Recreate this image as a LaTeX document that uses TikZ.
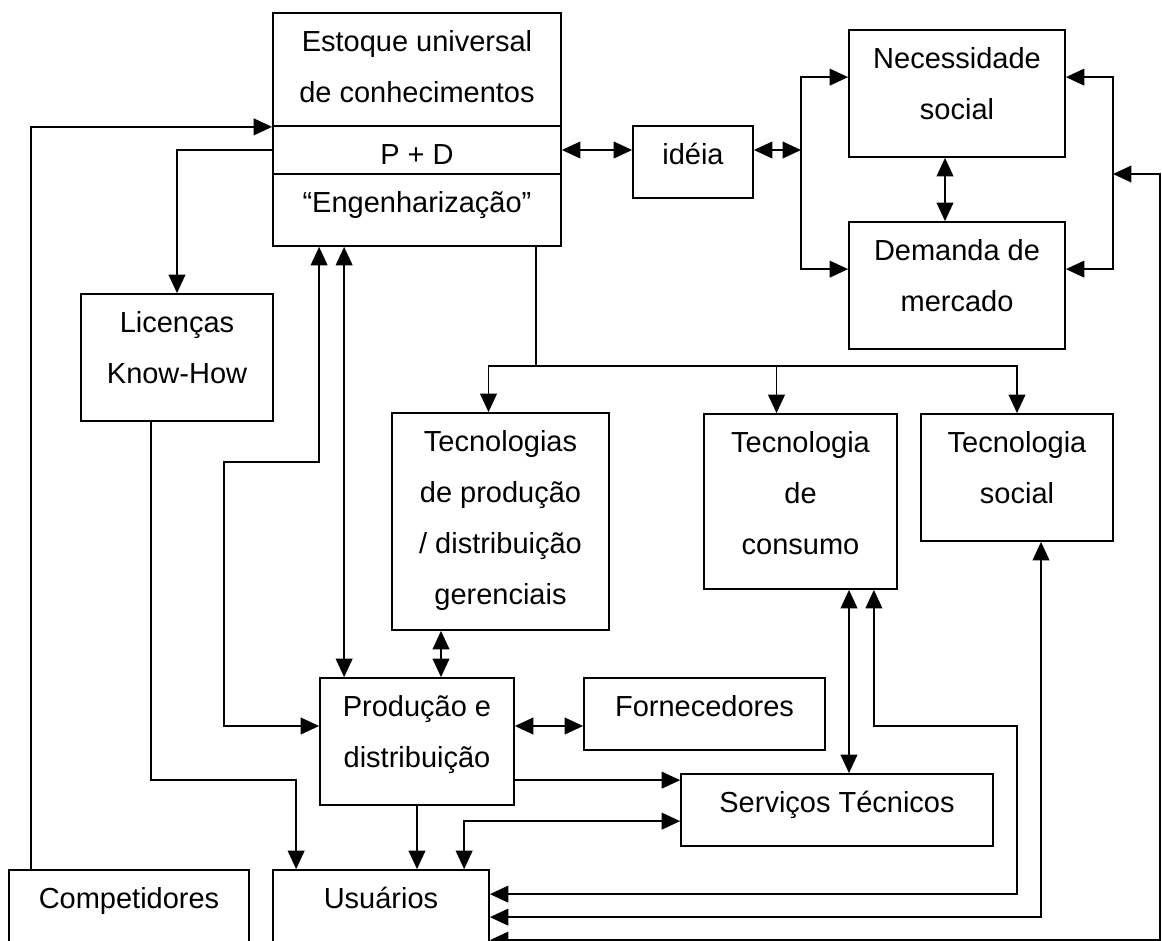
\documentclass[tikz,border=0pt]{standalone}
\usepackage{fontspec}
\setmainfont{Liberation Sans}
\usetikzlibrary{arrows.meta,calc,fit,positioning}
\tikzset{>={Triangle[length=10.5pt,width=9.5pt]}}
\newcommand\rotulo{\fontsize{16.5pt}{29pt}\selectfont}
\newcommand\caixa[6]{
    \node[caixa, fit={(#2,#3) (#4,#5)}] (#1) {};
    \node[texto, below=0.08cm of #1.north] (#1-t) {\rule{0pt}{20pt}#6};
}

\begin{document}
\begin{tikzpicture}[x=0.02cm, y=-0.02cm, line width=1pt,
        caixa/.style={draw, inner sep=0pt},
        texto/.style={inner sep=0pt, outer sep=0pt, align=center, font=\rotulo}]
            \useasboundingbox (0,0) rectangle (1162,940);
            \clip (0,0) rectangle (1162,940);
            \caixa{estoque}{273}{13}{561}{126}{Estoque universal\\de conhecimentos}
            \caixa{pd}{273}{126}{561}{174}{P + D}
            \caixa{eng}{273}{174}{561}{246}{“Engenharização”}
            \caixa{ideia}{633}{126}{753}{198}{idéia}
            \caixa{necessidade}{849}{30}{1065}{157}{Necessidade\\social}
            \caixa{demanda}{849}{222}{1065}{349}{Demanda de\\mercado}
            \caixa{licencas}{81}{294}{273}{421}{Licenças\\Know-How}
            \caixa{tecprod}{392}{413}{609}{630}{Tecnologias\\de produção\\/ distribuição\\gerenciais}
            \caixa{teccons}{704}{414}{897}{589}{Tecnologia\\de\\consumo}
            \caixa{tecsoc}{921}{414}{1113}{541}{Tecnologia\\social}
            \caixa{producao}{320}{678}{514}{805}{Produção e\\distribuição}
            \caixa{fornec}{584}{678}{825}{750}{Fornecedores}
            \caixa{servicos}{681}{774}{993}{846}{Serviços Técnicos}
            \caixa{competidores}{9}{870}{249}{1000}{Competidores}
            \caixa{usuarios}{273}{870}{489}{1000}{Usuários}
            \coordinate (k1) at ($(competidores.north west)+(23,0)$);
            \draw[->] (k1) |- (estoque.south west);
            \draw[->] (pd.west) -| (licencas.north);
            \draw[<->] (pd.east) -- (pd.east -| ideia.west);
            \coordinate (busL) at (801,150);
            \draw[<->] (pd.east -| ideia.east) -- (busL);
            \draw[->] (busL) |- ($(necessidade.north west)+(0,48)$);
            \draw[->] (busL) |- ($(demanda.north west)+(0,48)$);
            \draw[<->] ($(necessidade.south)+(-12,0)$) -- ($(demanda.north)+(-12,0)$);
            \coordinate (busR) at (1113,174);
            \coordinate (borda) at (1160,174);
            \draw[->] (busR) |- ($(necessidade.north east)+(0,48)$);
            \draw[->] (busR) |- ($(demanda.north east)+(0,48)$);
            \draw[<->] ($(usuarios.north east)+(0,71)$) -| (borda) -- (busR);
            \coordinate (ramo) at (536,366);
            \draw (eng.south -| ramo) -- (ramo);
            \draw[->] (ramo) -| ($(tecprod.north)+(-12,0)$);
            \draw[->] (ramo) -| ($(teccons.north)+(-24,0)$);
            \draw[->] (ramo) -| (tecsoc.north);
            \coordinate (p1) at ($(producao.north west)+(25,0)$);
            \draw[<->] (p1 |- eng.south) -- (p1);
            \coordinate (dobra) at (224,462);
            \coordinate (pw) at ($(producao.west)+(0,-15.5)$);
            \draw[<->] (eng.south -| producao.west) |- (dobra) |- (pw);
            \coordinate (p2) at ($(producao.north)+(24,0)$);
            \draw[<->] (p2 |- tecprod.south) -- (p2);
            \draw[<->] (pw -| producao.east) -- (pw -| fornec.west);
            \coordinate (s1) at ($(servicos.north west)+(0,7)$);
            \coordinate (s2) at ($(servicos.north west)+(0,48)$);
            \coordinate (l1) at ($(licencas.south west)+(71,0)$);
            \coordinate (u1) at ($(usuarios.north west)+(24,0)$);
            \coordinate (u2) at ($(usuarios.north west)+(192,0)$);
            \draw[->] (l1) -- (l1 |- s1) -| (u1);
            \draw[->] (producao.east |- s1) -- (s1);
            \draw[->] (producao.south) -- (producao.south |- usuarios.north);
            \draw[<->] (u2) |- (s2);
            \coordinate (c1) at ($(servicos.north)+(12,0)$);
            \draw[<->] (c1 |- teccons.south) -- (c1);
            \coordinate (c2) at ($(teccons.south east)+(-24,0)$);
            \coordinate (dobra2) at (1017,726);
            \draw[<->] (c2) |- (dobra2) |- ($(usuarios.north east)+(0,25)$);
            \draw[<->] ($(tecsoc.south)+(24,0)$) |- ($(usuarios.north east)+(0,48)$);
        \end{tikzpicture}
\end{document}
